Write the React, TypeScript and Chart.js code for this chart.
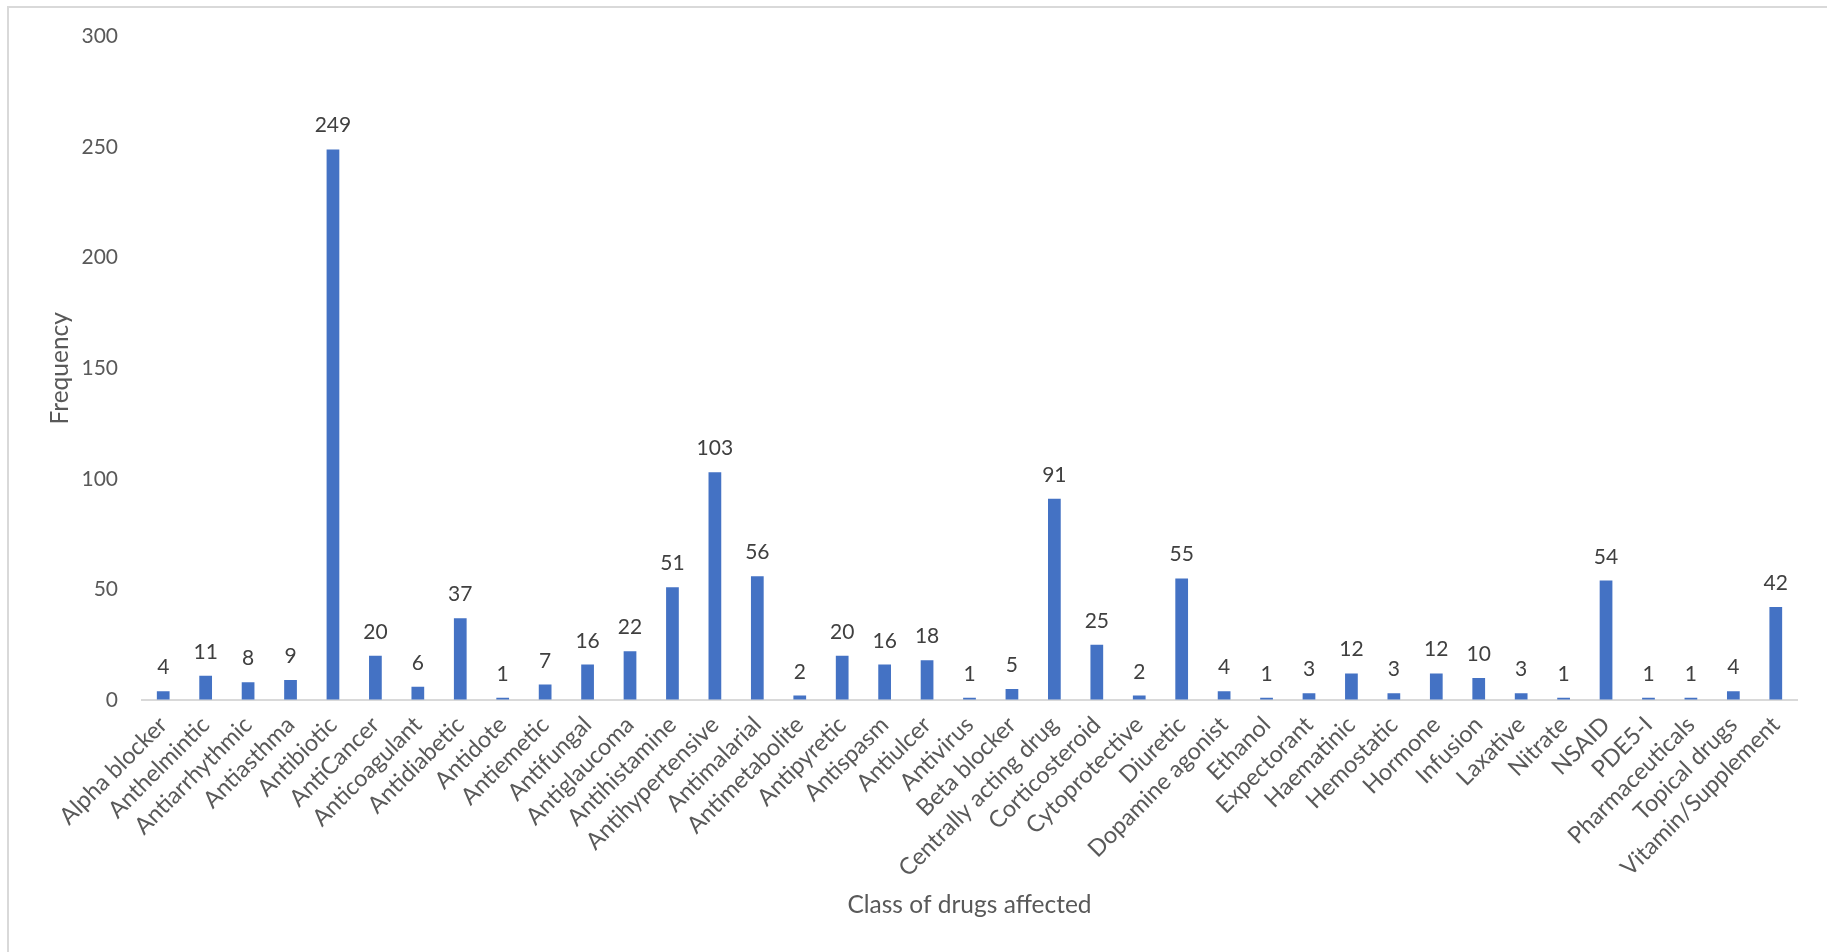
import React, { useEffect, useRef } from "react";
import { Chart, registerables } from "chart.js";

Chart.register(...registerables);

const categories = [
  "Alpha blocker", "Anthelmintic", "Antiarrhythmic", "Antiasthma", "Antibiotic",
  "AntiCancer", "Anticoagulant", "Antidiabetic", "Antidote", "Antiemetic",
  "Antifungal", "Antiglaucoma", "Antihistamine", "Antihypertensive", "Antimalarial",
  "Antimetabolite", "Antipyretic", "Antispasm", "Antiulcer", "Antivirus",
  "Beta blocker", "Centrally acting drug", "Corticosteroid", "Cytoprotective", "Diuretic",
  "Dopamine agonist", "Ethanol", "Expectorant", "Haematinic", "Hemostatic",
  "Hormone", "Infusion", "Laxative", "Nitrate", "NSAID",
  "PDE5-I", "Pharmaceuticals", "Topical drugs", "Vitamin/Supplement",
];

const frequencies = [
  4, 11, 8, 9, 249,
  20, 6, 37, 1, 7,
  16, 22, 51, 103, 56,
  2, 20, 16, 18, 1,
  5, 91, 25, 2, 55,
  4, 1, 3, 12, 3,
  12, 10, 3, 1, 54,
  1, 1, 4, 42,
];

const yMin = 0;
const yMax = 300;
const yStep = 50;

const xAxisTitle = "Class of drugs affected";
const yAxisTitle = "Frequency";

const FONT = "Lato, 'Open Sans', sans-serif";
const NUM_SIZE = 21;
const TICK_TEXT_SIZE = 23.5;
const TITLE_SIZE = 24.5;

const valueLabels = {
  id: "valueLabels",
  afterDatasetsDraw(chart: any) {
    const ctx = chart.ctx;
    const meta = chart.getDatasetMeta(0);
    const data = chart.data.datasets[0].data;
    ctx.save();
    ctx.font = `${NUM_SIZE}px ${FONT}`;
    ctx.fillStyle = "#404040";
    ctx.textAlign = "center";
    ctx.textBaseline = "alphabetic";
    meta.data.forEach((bar: any, i: number) => {
      ctx.fillText(String(data[i]), bar.x, bar.y - 17);
    });
    ctx.restore();
  },
};

export default function App() {
  const canvasRef = useRef<HTMLCanvasElement | null>(null);

  useEffect(() => {
    if (!canvasRef.current) return;
    const chart = new Chart(canvasRef.current, {
      type: "bar",
      data: {
        labels: categories,
        datasets: [
          {
            label: yAxisTitle,
            data: frequencies,
            backgroundColor: "#4472C4",
            borderWidth: 0,
            categoryPercentage: 1,
            barPercentage: 0.3,
          },
        ],
      },
      options: {
        animation: false,
        responsive: false,
        maintainAspectRatio: false,
        layout: { padding: { top: 35, right: 30, left: 0, bottom: 0 } },
        plugins: {
          legend: { display: false },
          tooltip: { enabled: false },
        },
        scales: {
          x: {
            grid: { display: true, drawOnChartArea: false, drawTicks: false },
            border: { display: true, color: "#d9d9d9", width: 2 },
            ticks: {
              autoSkip: false,
              minRotation: 45,
              maxRotation: 45,
              padding: 11,
              color: "#595959",
              font: { family: FONT, size: TICK_TEXT_SIZE },
            },
            title: {
              display: true,
              text: xAxisTitle,
              color: "#595959",
              font: { family: FONT, size: TITLE_SIZE },
              padding: { top: 0, bottom: 32 },
            },
            afterFit(scale: any) {
              scale.height = 252;
            },
          },
          y: {
            min: yMin,
            max: yMax,
            grid: { display: true, drawOnChartArea: false, drawTicks: false },
            border: { display: false },
            ticks: {
              stepSize: yStep,
              padding: 24,
              color: "#595959",
              font: { family: FONT, size: NUM_SIZE },
            },
            title: {
              display: true,
              text: yAxisTitle,
              color: "#595959",
              font: { family: FONT, size: TITLE_SIZE },
              padding: { top: 45, bottom: 0 },
            },
            afterFit(scale: any) {
              scale.width = 142;
            },
          },
        },
      },
      plugins: [valueLabels],
    });
    return () => chart.destroy();
  }, []);

  return (
    <div
      style={{
        position: "fixed",
        left: 0,
        top: 0,
        width: 1827,
        height: 952,
        overflow: "hidden",
        background: "#ffffff",
      }}
    >
      <div
        style={{
          position: "absolute",
          left: 7,
          top: 6,
          width: 2000,
          height: 1200,
          borderLeft: "2px solid #d9d9d9",
          borderTop: "2px solid #d9d9d9",
        }}
      />
      <canvas
        ref={canvasRef}
        width={1827}
        height={952}
        style={{ position: "absolute", left: 0, top: 0, width: 1827, height: 952 }}
      />
    </div>
  );
}
